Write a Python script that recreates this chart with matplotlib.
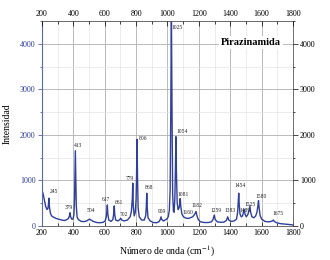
import matplotlib
matplotlib.use('Agg')
import matplotlib.pyplot as plt
from matplotlib.ticker import MultipleLocator

# spectrum (cm-1, counts)
wavenumber = [200, 208, 216, 224, 232, 238, 242, 245, 248, 254, 262, 275, 290, 305, 325, 345,
              360, 370, 376, 379, 383, 390, 398, 404, 408, 411, 413, 416, 419, 424, 432, 450,
              470, 488, 498, 504, 512, 530, 550, 570, 590, 603, 610, 614, 617, 620, 626, 640,
              652, 657, 661, 664, 670, 685, 696, 702, 708, 725, 745, 762, 770, 776, 779, 782,
              788, 795, 800, 803, 806, 809, 813, 820, 835, 852, 861, 865, 868, 871, 876, 890,
              910, 930, 945, 954, 959, 963, 975, 995, 1005, 1012, 1017, 1021, 1025, 1029, 1033,
              1038, 1042, 1047, 1051, 1054, 1057, 1062, 1068, 1074, 1078, 1081, 1085, 1092, 1102,
              1118, 1135, 1150, 1160, 1170, 1177, 1182, 1188, 1196, 1210, 1235, 1260, 1280, 1290,
              1298, 1304, 1318, 1340, 1360, 1375, 1384, 1390, 1405, 1425, 1440, 1447, 1451, 1454,
              1457, 1462, 1470, 1478, 1484, 1489, 1494, 1502, 1512, 1519, 1525, 1530, 1538, 1550,
              1562, 1570, 1576, 1580, 1584, 1590, 1600, 1620, 1645, 1662, 1670, 1675, 1680, 1695,
              1720, 1750, 1780, 1800]
intensity = [790, 700, 560, 430, 360, 380, 480, 610, 420, 280, 220, 190, 165, 150, 130, 120,
             140, 170, 230, 290, 200, 150, 150, 250, 600, 1200, 1650, 1100, 450, 200, 140, 100,
             95, 115, 140, 150, 130, 95, 75, 70, 80, 110, 200, 330, 460, 260, 130, 100,
             140, 260, 440, 250, 130, 110, 140, 170, 130, 110, 130, 200, 320, 600, 940, 450,
             220, 300, 600, 1100, 1900, 1100, 400, 200, 130, 130, 220, 400, 720, 400, 180, 110,
             75, 70, 90, 140, 200, 140, 110, 150, 200, 350, 800, 2500, 4700, 2500, 700,
             320, 300, 600, 1300, 1960, 1200, 500, 360, 400, 480, 600, 420, 260, 200,
             170, 165, 185, 200, 240, 280, 315, 220, 140, 90, 75, 75, 90, 140,
             240, 140, 90, 80, 85, 120, 200, 130, 100, 110, 150, 300, 520, 720,
             480, 260, 200, 220, 300, 365, 260, 200, 250, 330, 440, 300, 200, 180,
             220, 300, 440, 555, 400, 230, 150, 100, 90, 100, 115, 130, 100, 70,
             50, 40, 30, 20]

peak_labels = ['245', '379', '413', '504', '617', '661', '702', '779', '806', '868', '959',
               '1025', '1054', '1081', '1160', '1182', '1259', '1383', '1454', '1489', '1525',
               '1580', '1675']
# where each label sits on the chart
label_x = [278, 369, 427, 511, 609, 690, 724, 758, 845, 885, 964,
           1060, 1092, 1100, 1131, 1190, 1311, 1397, 1464, 1497, 1525, 1600, 1705]
label_y = [755, 410, 1760, 330, 585, 520, 255, 1050, 1910, 850, 320,
           4350, 2070, 700, 290, 440, 330, 330, 880, 350, 475, 645, 265]

line_blue = '#2f3f9c'
serif = ['Liberation Serif', 'DejaVu Serif']
plt.rcParams['font.family'] = serif
plt.rcParams['mathtext.fontset'] = 'stix'

fig = plt.figure(figsize=(3.3, 2.6), dpi=100)
ax = fig.add_axes([0.127, 0.131, 0.761, 0.788])

ax.plot(wavenumber, intensity, color=line_blue, lw=1.0)
ax.set_xlim(200, 1800)
ax.set_ylim(0, 4500)

ax.xaxis.set_major_locator(MultipleLocator(200))
ax.xaxis.set_minor_locator(MultipleLocator(100))
ax.yaxis.set_major_locator(MultipleLocator(1000))
ax.yaxis.set_minor_locator(MultipleLocator(500))
ax.grid(which='major', color='#b0b0b0', lw=0.6)
ax.grid(which='minor', color='#e4e4e4', lw=0.5)
ax.set_axisbelow(True)

ax.tick_params(axis='x', which='both', direction='in', labelsize=5.8, pad=2)
ax.tick_params(axis='x', which='major', length=3, width=0.5)
ax.tick_params(axis='x', which='minor', length=2, width=0.5)
ax.tick_params(axis='y', which='both', direction='out', labelsize=5.8, pad=1.5,
               labelcolor=line_blue, color=line_blue)
ax.tick_params(axis='y', which='major', length=3, width=0.5)
ax.tick_params(axis='y', which='minor', length=1.5, width=0.5)
ax.spines['left'].set_color('#5a68b4')
for side in ['top', 'right', 'bottom']:
    ax.spines[side].set_color('#555555')
    ax.spines[side].set_linewidth(0.6)

# top and right copies of the scales
axt = ax.twiny()
axt.set_xlim(ax.get_xlim())
axt.xaxis.set_major_locator(MultipleLocator(200))
axt.xaxis.set_minor_locator(MultipleLocator(100))
axt.tick_params(axis='x', which='both', direction='in', labelsize=5.8, pad=2, width=0.5)
axt.tick_params(axis='x', which='minor', length=2)
axr = ax.twinx()
axr.set_ylim(ax.get_ylim())
axr.yaxis.set_major_locator(MultipleLocator(1000))
axr.yaxis.set_minor_locator(MultipleLocator(500))
axr.tick_params(axis='y', which='both', direction='out', labelsize=5.8, pad=1.5, width=0.5)
axr.tick_params(axis='y', which='minor', length=1.5)
for a in (axt, axr):
    for s in a.spines.values():
        s.set_visible(False)

for lab, x, y in zip(peak_labels, label_x, label_y):
    ax.text(x, y, lab, fontsize=4, ha='center', va='center', color='#222222')

ax.text(1530, 4030, 'Pirazinamida', fontsize=7.5, fontweight='bold', ha='center', va='center',
        bbox=dict(facecolor='white', edgecolor='none', pad=1.5))

ax.set_xlabel('Número de onda (cm$^{-1}$)', fontsize=7, labelpad=5)
ax.set_ylabel('Intensidad', fontsize=7, labelpad=6)

fig.savefig('out.png', dpi=100)
